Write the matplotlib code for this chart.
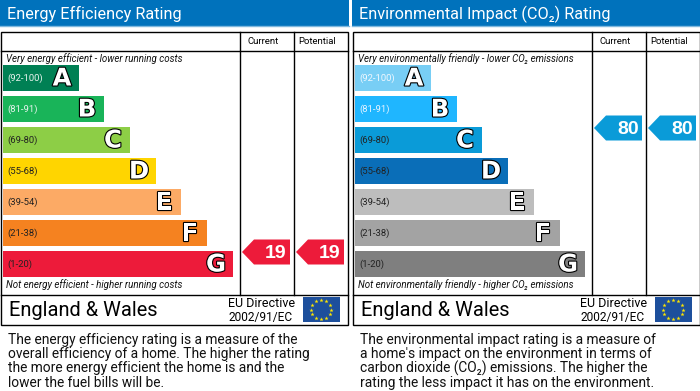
"""
EPC energy efficiency and environmental impact rating charts
"""

import matplotlib
matplotlib.use('Agg')
import matplotlib.pyplot as plt
import matplotlib.patheffects as pe
from matplotlib.patches import Polygon, Rectangle
import numpy as np

FONT = ['Roboto', 'Noto Sans', 'DejaVu Sans']

grades = ['A', 'B', 'C', 'D', 'E', 'F', 'G']
ranges = ['(92-100)', '(81-91)', '(69-80)', '(55-68)', '(39-54)', '(21-38)', '(1-20)']

# bar lengths in pixels of the original image
energy_lengths = [76, 101, 127, 153, 178, 204, 230]
co2_lengths = [76, 102, 127, 153, 179, 205, 230]

energy_colors = ['#008054', '#19B459', '#8DCE46', '#FFD500', '#FCAA65', '#F58220', '#ED1B3A']
co2_colors = ['#78CEF5', '#1FB6FF', '#0A9BD8', '#0A6EB8', '#BDBDBD', '#A3A3A3', '#7F7F7F']
energy_range_colors = ['#E8F4EE', '#E8F4EE', '#222222', '#222222', '#222222', '#222222', '#222222']
co2_range_colors = ['#F0F8FF', '#E8F4FF', '#222222', '#222222', '#222222', '#222222', '#222222']

energy_rating = 19
energy_rating_band = 6
co2_rating = 80
co2_rating_band = 2

energy_title = 'Energy Efficiency Rating'
co2_title = 'Environmental Impact (CO\u2082) Rating'
energy_top = 'Very energy efficient - lower running costs'
energy_bottom = 'Not energy efficient - higher running costs'
co2_top = 'Very environmentally friendly - lower CO\u2082 emissions'
co2_bottom = 'Not environmentally friendly - higher CO\u2082 emissions'
energy_text = ['The energy efficiency rating is a measure of the',
               'overall efficiency of a home. The higher the rating',
               'the more energy efficient the home is and the',
               'lower the fuel bills will be.']
co2_text = ['The environmental impact rating is a measure of',
            "a home's impact on the environment in terms of",
            'carbon dioxide (CO\u2082) emissions. The higher the',
            'rating the less impact it has on the environment.']

BLUE = '#0072BC'


def draw_arrow(ax, tip, right, yc, value, color):
    pts = [(tip, yc), (tip + 12, yc - 12.5), (right, yc - 12.5), (right, yc + 12.5), (tip + 12, yc + 12.5)]
    ax.add_patch(Polygon(pts, closed=True, fc=color, ec='none', zorder=3))
    ax.text(right - 3.5, yc, str(value), color='white', fontsize=14, fontweight='bold',
            family='Liberation Sans', ha='right', va='center_baseline', zorder=4)


def draw_panel(ax, x0, lengths, colors, range_colors, title, top, bottom, body, rating, band):
    # header strip
    ax.add_patch(Rectangle((x0 - 1, -1), 349, 27, fc=BLUE, ec='none'))
    ax.plot([x0 - 1, x0 + 348], [26, 26], color='#7FB8DE', lw=1)
    ax.text(x0 + 6, 14, title, color='white', fontsize=11.7, family=FONT, ha='left', va='center')

    # frame
    lw = 1.0
    ax.add_patch(Rectangle((x0, 31.5), 346.5, 293, fc='white', ec='black', lw=lw))
    ax.plot([x0, x0 + 346.5], [50.5, 50.5], color='black', lw=lw)
    ax.plot([x0, x0 + 346.5], [294.5, 294.5], color='black', lw=lw)
    ax.plot([x0 + 238.5, x0 + 238.5], [31.5, 294.5], color='black', lw=lw)
    ax.plot([x0 + 292.5, x0 + 292.5], [31.5, 294.5], color='black', lw=lw)
    ax.text(x0 + 262, 41, 'Current', fontsize=6.8, family=FONT, ha='center', va='center')
    ax.text(x0 + 316, 41, 'Potential', fontsize=6.8, family=FONT, ha='center', va='center')
    ax.text(x0 + 5.5, 58.5, top, fontsize=7.0, style='italic', family=FONT, va='center', color='#111111')
    ax.text(x0 + 5.5, 285, bottom, fontsize=7.0, style='italic', family=FONT, va='center', color='#111111')

    # rating bars
    ys = 78 + 31 * np.arange(len(grades))
    ax.barh(ys, lengths, height=26, left=x0 + 2, color=colors, edgecolor='none', zorder=2)
    for y, length, grade, rng, rc in zip(ys, lengths, grades, ranges, range_colors):
        ax.text(x0 + 6.5, y, rng, fontsize=6.8, family=FONT, color=rc, va='center', zorder=3)
        ax.text(x0 + 2 + length - 17, y + 0.5, grade, fontsize=17.5, fontweight='bold', family='DejaVu Sans',
                color='white', ha='center', va='center', zorder=3,
                path_effects=[pe.withStroke(linewidth=1.6, foreground='black')])

    # rating arrows
    yc = ys[band] - 12
    draw_arrow(ax, x0 + 241, x0 + 289, yc, rating, colors[band])
    draw_arrow(ax, x0 + 295, x0 + 343, yc, rating, colors[band])

    # footer
    ax.text(x0 + 8, 311, 'England & Wales', fontsize=14.4, family=FONT, va='center')
    ax.text(x0 + 227.5, 303.5, 'EU Directive', fontsize=9, family=FONT, va='center')
    ax.text(x0 + 227.5, 317, '2002/91/EC', fontsize=8.6, family=FONT, va='center')
    ax.add_patch(Rectangle((x0 + 301.5, 297), 37, 25, fc='#1D4F9C', ec='none'))
    ang = np.deg2rad(np.arange(0, 360, 30))
    ax.scatter(x0 + 320 + 10 * np.cos(ang), 309.5 + 9.5 * np.sin(ang), marker='*', s=10,
               color='#FFE600', linewidths=0, zorder=3)

    # description
    for i, line in enumerate(body):
        ax.text(x0 + 7.5, 340 + 14.2 * i, line, fontsize=9.9, family=FONT, va='center', color='#111111')


fig = plt.figure(figsize=(7.0, 3.91), dpi=100)
ax = fig.add_axes([0, 0, 1, 1])
ax.set_xlim(0, 700)
ax.set_ylim(391, 0)
ax.axis('off')

draw_panel(ax, 1, energy_lengths, energy_colors, energy_range_colors, energy_title,
           energy_top, energy_bottom, energy_text, energy_rating, energy_rating_band)
draw_panel(ax, 353, co2_lengths, co2_colors, co2_range_colors, co2_title,
           co2_top, co2_bottom, co2_text, co2_rating, co2_rating_band)

fig.savefig('out.png', dpi=100)
